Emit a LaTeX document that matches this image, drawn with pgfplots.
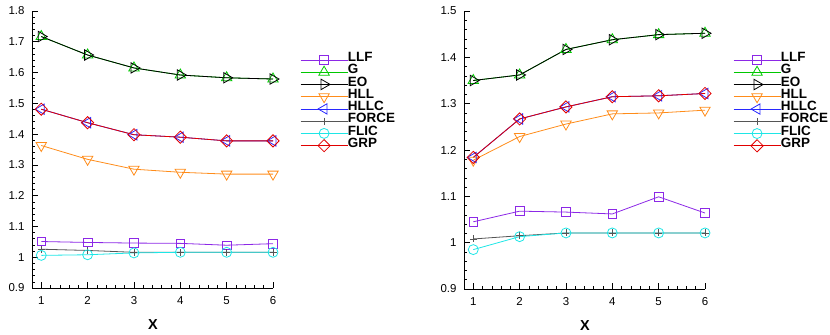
\documentclass[border=0pt]{standalone}
\usepackage{fontspec}
\setmainfont{Liberation Sans}
\usepackage{pgfplots}
\usepackage{pgfplotstable}
\pgfplotsset{compat=1.18}

\definecolor{cLLF}{RGB}{140,40,230}
\definecolor{cG}{RGB}{0,200,0}
\definecolor{cEO}{RGB}{0,0,0}
\definecolor{cHLL}{RGB}{255,140,26}
\definecolor{cHLLC}{RGB}{40,40,255}
\definecolor{cFORCE}{RGB}{85,85,85}
\definecolor{cFLIC}{RGB}{30,230,230}
\definecolor{cGRP}{RGB}{225,0,0}

\pgfplotstableread{
x LLF G EO HLL HLLC FORCE FLIC GRP
1 1.051 1.717 1.717 1.363 1.481 1.026 1.006 1.481
2 1.048 1.657 1.657 1.318 1.437 1.022 1.008 1.437
3 1.046 1.615 1.615 1.286 1.398 1.016 1.014 1.398
4 1.045 1.592 1.592 1.276 1.390 1.016 1.016 1.390
5 1.039 1.583 1.583 1.270 1.378 1.016 1.016 1.378
6 1.044 1.579 1.579 1.270 1.378 1.016 1.016 1.378
}\leftdata

\pgfplotstableread{
x LLF G EO HLL HLLC FORCE FLIC GRP
1 1.045 1.350 1.350 1.178 1.184 1.008 0.985 1.184
2 1.068 1.362 1.362 1.229 1.267 1.015 1.013 1.267
3 1.066 1.417 1.417 1.256 1.293 1.021 1.021 1.293
4 1.062 1.438 1.438 1.278 1.315 1.021 1.021 1.315
5 1.099 1.449 1.449 1.280 1.317 1.021 1.021 1.317
6 1.064 1.452 1.452 1.286 1.322 1.021 1.021 1.322
}\rightdata

\pgfplotsset{
 myaxis/.style={
  scale only axis, width=241bp,
  axis x line*=bottom, axis y line*=left,
  axis line style={-, line width=0.8bp, black},
  tick align=inside,
  xmin=0.8, xmax=6, xtick={1,2,3,4,5,6},
  minor x tick num=4, minor y tick num=4,
  major tick length=6bp, minor tick length=3bp,
  tick style={line width=0.6bp, black},
  ticklabel style={font=\fontsize{11.5}{13}\selectfont},
  yticklabel style={xshift=-4bp},
  xticklabel style={yshift=-5bp},
  /pgf/number format/assume math mode=true,
  xlabel={X},
  xlabel style={at={(axis description cs:0.502,0)}, anchor=center, yshift=-37bp, font=\fontsize{14.5}{17}\selectfont\bfseries},
  clip=false,
  legend cell align=left,
  legend style={anchor=north west, draw=none, fill=none, inner sep=0pt,
    font=\fontsize{13.5}{14}\selectfont\bfseries,
    nodes={inner sep=0pt, text height=9.3bp, text depth=0bp},
    row sep=-2.1bp,
    /tikz/every even column/.append style={column sep=8bp}},
  legend image code/.code={
    \begin{pgfinterruptboundingbox}
    \draw[mark repeat=2,mark phase=2,##1] plot coordinates {(0bp,-3bp) (23.5bp,-3bp) (47bp,-3bp)};
    \end{pgfinterruptboundingbox}
    \path (0bp,0bp) (47bp,9.3bp);
  },
  every axis plot/.append style={line width=0.8bp},
 },
 sLLF/.style={color=cLLF, mark=square, mark size=4.3bp, mark options={solid}},
 sG/.style={color=cG, mark=triangle, mark size=6bp},
 sEO/.style={color=cEO, mark=triangle, mark size=6bp, mark options={rotate=-90}},
 sHLL/.style={color=cHLL, mark=triangle, mark size=6bp, mark options={rotate=180}},
 sHLLC/.style={color=cHLLC, mark=triangle, mark size=6bp, mark options={rotate=90}},
 sFORCE/.style={color=cFORCE, mark=+, mark size=3.5bp},
 sFLIC/.style={color=cFLIC, mark=o, mark size=5bp},
 sGRP/.style={color=cGRP, mark=square, mark size=4.3bp, mark options={rotate=45}},
}

\begin{document}
\begin{tikzpicture}
\begin{axis}[myaxis, at={(0bp,0bp)}, anchor=south west, height=277bp,
  ymin=0.9, ymax=1.8, ytick={0.9,1,1.1,1.2,1.3,1.4,1.5,1.6,1.7,1.8},
  legend style={at={(1.112,0.87)}}]
\addplot[sLLF] table[x=x,y=LLF]{\leftdata};
\addplot[sG] table[x=x,y=G]{\leftdata};
\addplot[sEO] table[x=x,y=EO]{\leftdata};
\addplot[sHLL] table[x=x,y=HLL]{\leftdata};
\addplot[sHLLC] table[x=x,y=HLLC]{\leftdata};
\addplot[sFORCE] table[x=x,y=FORCE]{\leftdata};
\addplot[sFLIC] table[x=x,y=FLIC]{\leftdata};
\addplot[sGRP] table[x=x,y=GRP]{\leftdata};
\legend{LLF,G,EO,HLL,HLLC,FORCE,FLIC,GRP}
\end{axis}
\begin{axis}[myaxis, at={(432bp,-1bp)}, anchor=south west, height=278bp,
  ymin=0.9, ymax=1.5, ytick={0.9,1,1.1,1.2,1.3,1.4,1.5},
  legend style={at={(1.116,0.87)}}]
\addplot[sLLF] table[x=x,y=LLF]{\rightdata};
\addplot[sG] table[x=x,y=G]{\rightdata};
\addplot[sEO] table[x=x,y=EO]{\rightdata};
\addplot[sHLL] table[x=x,y=HLL]{\rightdata};
\addplot[sHLLC] table[x=x,y=HLLC]{\rightdata};
\addplot[sFORCE] table[x=x,y=FORCE]{\rightdata};
\addplot[sFLIC] table[x=x,y=FLIC]{\rightdata};
\addplot[sGRP] table[x=x,y=GRP]{\rightdata};
\legend{LLF,G,EO,HLL,HLLC,FORCE,FLIC,GRP}
\end{axis}
\pgfresetboundingbox
\path (-32bp,-47bp) rectangle (798bp,288bp);
\end{tikzpicture}
\end{document}
